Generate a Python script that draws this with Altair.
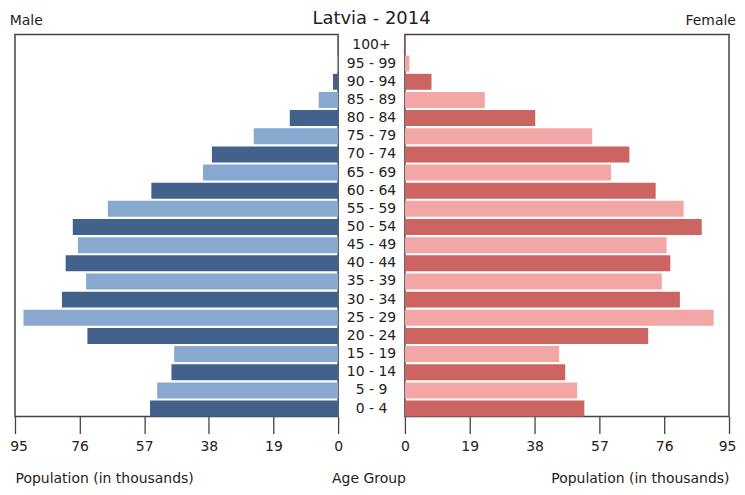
import altair as alt
import pandas as pd

age_groups = ["0 - 4", "5 - 9", "10 - 14", "15 - 19", "20 - 24", "25 - 29", "30 - 34",
              "35 - 39", "40 - 44", "45 - 49", "50 - 54", "55 - 59", "60 - 64", "65 - 69",
              "70 - 74", "75 - 79", "80 - 84", "85 - 89", "90 - 94", "95 - 99", "100+"]
male = [55.3, 53.2, 49.0, 48.2, 73.7, 92.5, 81.2, 74.1, 80.1, 76.5, 78.0, 67.7, 54.9,
        39.7, 37.1, 24.8, 14.2, 5.7, 1.5, 0.3, 0.1]
female = [52.6, 50.5, 47.0, 45.2, 71.3, 90.5, 80.6, 75.3, 77.8, 76.7, 87.0, 81.7, 73.5,
          60.4, 65.8, 54.9, 38.2, 23.4, 7.8, 1.3, 0.3]
shade = ["dark" if i % 2 == 0 else "light" for i in range(len(age_groups))]
ticks = [0, 19, 38, 57, 76, 95]

df = pd.DataFrame({"age": age_groups, "male": male, "female": female, "shade": shade})
order = list(reversed(age_groups))

FONT = "DejaVu Sans"
TXT = "#222222"
H = 383

yscale = alt.Scale(type="band", paddingInner=0.12, paddingOuter=0.08, align=1)
yenc = alt.Y("age:N", sort=order, axis=None, scale=yscale)


def xaxis(title_x, title_align, edge_offset):
    return alt.Axis(values=ticks, title="Population (in thousands)", domain=False,
                    grid=False, ticks=True, tickSize=17, tickColor="#444444", tickWidth=1.3,
                    labelFontSize=14, labelFont=FONT, labelColor=TXT, labelPadding=6,
                    labelFlush=False,
                    labelOffset=alt.condition("datum.value == 95", alt.value(edge_offset),
                                              alt.value(0)),
                    titleFontSize=14, titleFont=FONT, titleColor=TXT,
                    titleFontWeight="normal", titleX=title_x, titleY=66.5,
                    titleAlign=title_align, titleBaseline="alphabetic")


left = alt.Chart(df).mark_bar().encode(
    x=alt.X("male:Q", scale=alt.Scale(domain=[0, 95], reverse=True, nice=False),
            axis=xaxis(0, "left", 3.6)),
    y=yenc,
    color=alt.Color("shade:N", scale=alt.Scale(domain=["dark", "light"],
                                                range=["#42628c", "#88a8d0"]), legend=None),
).properties(width=324, height=H,
             title=alt.TitleParams("Male", anchor="start", fontSize=14, fontWeight="normal",
                                   font=FONT, color=TXT, offset=6.5))

right = alt.Chart(df).mark_bar().encode(
    x=alt.X("female:Q", scale=alt.Scale(domain=[0, 95], nice=False),
            axis=xaxis(325, "right", -2)),
    y=yenc,
    color=alt.Color("shade:N", scale=alt.Scale(domain=["dark", "light"],
                                                range=["#cc6462", "#f3a6a6"]), legend=None),
).properties(width=325, height=H,
             title=alt.TitleParams("Female", anchor="end", fontSize=14, fontWeight="normal",
                                   font=FONT, color=TXT, offset=6.5))

mid_text = alt.Chart(df).mark_text(fontSize=14, font=FONT, color=TXT, baseline="middle").encode(
    y=alt.Y("age:N", sort=order, axis=None, scale=yscale, bandPosition=0.5),
    text="age:N", x=alt.value(33.5))
age_title = alt.Chart(pd.DataFrame({"t": ["Age Group"]})).mark_text(
    fontSize=14, font=FONT, color=TXT, baseline="alphabetic").encode(
    text="t:N", x=alt.value(31), y=alt.value(H + 66.5))

mid = alt.layer(mid_text, age_title).properties(
    width=67, height=H, view=alt.ViewBackground(stroke="transparent"),
    title=alt.TitleParams("Latvia - 2014", anchor="middle", fontSize=18, fontWeight="normal",
                          font=FONT, color=TXT, offset=6.5))

chart = alt.hconcat(left, mid, right, spacing=0, bounds="flush").resolve_scale(
    color="independent"
).properties(
    padding={"left": 0, "top": 0, "right": 0, "bottom": 0},
    background="white",
).configure_view(stroke="#444444", strokeWidth=1.5)

chart.save("out.html", embed_options={"renderer": "svg", "actions": False})
